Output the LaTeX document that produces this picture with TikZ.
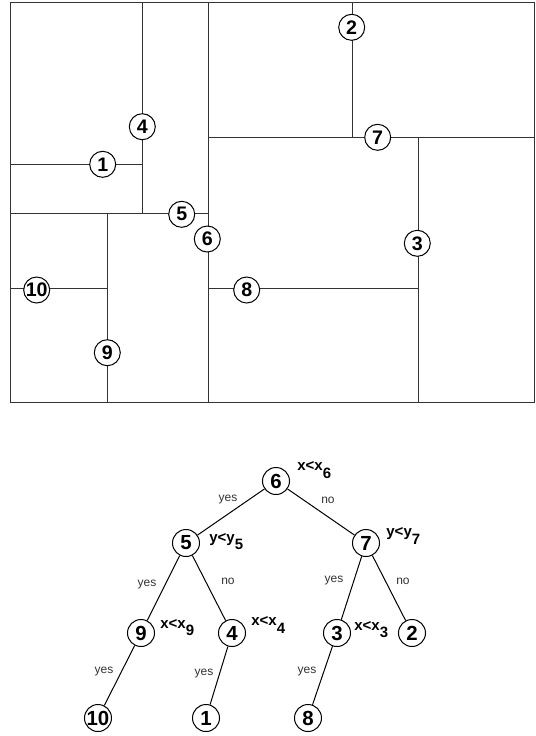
\documentclass[tikz,border=0pt]{standalone}
\usepackage{fontspec}
\setmainfont{Liberation Sans}
\newcommand\cnd[2]{#1\raisebox{-3.8pt}{#2}}
\begin{document}
\begin{tikzpicture}[x=0.5pt,y=-0.5pt,
 part/.style={draw=black!80,line width=0.5pt},
 num/.style={circle,draw,fill=white,line width=0.5pt,minimum size=13pt,inner sep=0pt,font=\fontsize{9.8}{9.8}\selectfont\bfseries},
 tnum/.style={num,minimum size=13.5pt,font=\fontsize{10.2}{10.2}\selectfont\bfseries},
 edge/.style={draw,line width=0.5pt},
 ans/.style={font=\fontsize{6}{6}\selectfont,text=black!80,inner sep=0pt},
 cond/.style={font=\fontsize{7.5}{7.5}\selectfont\bfseries,anchor=base west,inner sep=0pt}]
\useasboundingbox (0,0) rectangle (536,736);
% partition
\draw[part] (11,2) rectangle (535,402);
\draw[part] (143,2) -- (143,213);
\draw[part] (11,164) -- (143,164);
\draw[part] (11,213) -- (209,213);
\draw[part] (209,2) -- (209,402);
\draw[part] (108,213) -- (108,402);
\draw[part] (11,288) -- (108,288);
\draw[part] (209,288) -- (419,288);
\draw[part] (209,137) -- (535,137);
\draw[part] (353,2) -- (353,137);
\draw[part] (419,137) -- (419,402);
\node[num] (p4) at (142.3,126.7) {4};
\node[num] (p1) at (102.7,164.3) {1};
\node[num] (p5) at (181.7,214.3) {5};
\node[num] (p6) at (207.3,239) {6};
\node[num] (p10) at (36.7,290) {10};
\node[num] (p8) at (246.7,290) {8};
\node[num] (p9) at (107.3,352.7) {9};
\node[num] (p2) at (351.7,27.3) {2};
\node[num] (p7) at (377.7,137.3) {7};
\node[num] (p3) at (417.3,243.3) {3};
% tree
\node[tnum] (t6) at (276,481) {6};
\node[tnum] (t5) at (186,543) {5};
\node[tnum] (t7) at (366,543) {7};
\node[tnum] (t9) at (141,633) {9};
\node[tnum] (t4) at (232,633) {4};
\node[tnum] (t3) at (337,633) {3};
\node[tnum] (t2) at (412,633) {2};
\node[tnum] (t10) at (98,718) {10};
\node[tnum] (t1) at (206,718) {1};
\node[tnum] (t8) at (308,718) {8};
\draw[edge] (t6) -- (t5);
\draw[edge] (t6) -- (t7);
\draw[edge] (t5) -- (t9);
\draw[edge] (t5) -- (t4);
\draw[edge] (t7) -- (t3);
\draw[edge] (t7) -- (t2);
\draw[edge] (t9) -- (t10);
\draw[edge] (t4) -- (t1);
\draw[edge] (t3) -- (t8);
\node[ans] (a65) at (228,500) {yes};
\node[ans] (a67) at (328,500) {no};
\node[ans] (a54) at (228,581) {no};
\node[ans] (a73) at (334,581) {yes};
\node[ans] (a72) at (403,581) {no};
\node[ans] (a59) at (147,585) {yes};
\node[ans] (a910) at (104,672) {yes};
\node[ans] (a41) at (204,674) {yes};
\node[ans] (a38) at (307,672) {yes};
\node[cond] (c6) at (297,470.7) {\cnd{x<x}{6}};
\node[cond] (c5) at (209,542) {\cnd{y<y}{5}};
\node[cond] (c7) at (386,536.6) {\cnd{y<y}{7}};
\node[cond] (c9) at (160,628.3) {\cnd{x<x}{9}};
\node[cond] (c4) at (251,625.7) {\cnd{x<x}{4}};
\node[cond] (c3) at (354,630) {\cnd{x<x}{3}};
\end{tikzpicture}
\end{document}
